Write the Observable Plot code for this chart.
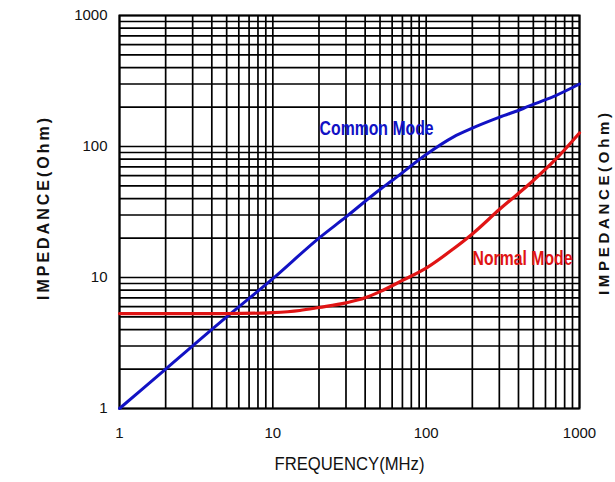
<!DOCTYPE html>
<html>
<head>
<meta charset="utf-8">
<script src="https://cdn.jsdelivr.net/npm/d3@7"></script>
<script src="https://cdn.jsdelivr.net/npm/@observablehq/plot@0.6"></script>
<style>
  html, body { margin: 0; padding: 0; background: #fff; }
</style>
</head>
<body>
<div id="chart"></div>
<script>
// Frequency (MHz) sample points and impedance (Ohm)
const commonFreq = [1, 2, 5, 10, 20, 30, 50, 60, 100, 150, 200, 300, 430, 500, 700, 1000];
const commonImp  = [1, 2, 5, 9.8, 20, 29, 47, 55, 87, 118, 138, 167, 195, 210, 245, 300];

const normalFreq = [1, 5, 10, 15, 20, 30, 40, 50, 70, 100, 150, 200, 300, 500, 700, 1000];
const normalImp  = [5.3, 5.3, 5.4, 5.6, 5.9, 6.4, 7.0, 7.8, 9.5, 11.8, 16.5, 21.5, 33, 55, 80, 127];

// tick labels (decades) and log grid values
const decadeTicks = [1, 10, 100, 1000];
const gridValues = [1,2,3,4,5,6,7,8,9,10,20,30,40,50,60,70,80,90,100,200,300,400,500,600,700,800,900,1000];

// series annotations
const seriesNames = ["Common Mode", "Normal Mode"];
const seriesColors = ["#1212c4", "#e01414"];
const labelFreq = [47.5, 425];
const labelImp = [137, 14];

const common = commonFreq.map((f, i) => ({f, z: commonImp[i]}));
const normal = normalFreq.map((f, i) => ({f, z: normalImp[i]}));
const labels = seriesNames.map((name, i) => ({name, f: labelFreq[i], z: labelImp[i], color: seriesColors[i]}));

const sans = "'Liberation Sans', Arial, sans-serif";

const chart = Plot.plot({
  width: 615,
  height: 482,
  marginLeft: 119,
  marginRight: 36,
  marginTop: 15,
  marginBottom: 74,
  style: {fontFamily: sans, background: "#fff", color: "#111"},
  x: {type: "log", domain: [1, 1000], label: null},
  y: {type: "log", domain: [1, 1000], label: null},
  marks: [
    Plot.ruleX(gridValues, {stroke: "#000", strokeWidth: 1.7}),
    Plot.ruleY(gridValues, {stroke: "#000", strokeWidth: 1.7}),
    Plot.frame({stroke: "#000", strokeWidth: 2}),
    Plot.line(common, {x: "f", y: "z", stroke: seriesColors[0], strokeWidth: 3, curve: "monotone-x"}),
    Plot.line(normal, {x: "f", y: "z", stroke: seriesColors[1], strokeWidth: 3.2, curve: "monotone-x"}),
    Plot.text(labels, {x: "f", y: "z", text: "name", fill: "color", fontSize: 20, fontWeight: "bold"}),
    Plot.axisX({ticks: decadeTicks, tickFormat: d => String(d), tickSize: 0, tickPadding: 19, fontSize: 15, label: null}),
    Plot.axisY({ticks: decadeTicks, tickFormat: d => String(d), tickSize: 0, tickPadding: 12, fontSize: 15, label: null}),
    Plot.text(["FREQUENCY(MHz)"], {frameAnchor: "bottom", dy: 61, fontSize: 19, fill: "#111", textAnchor: "middle"}),
    Plot.text(["IMPEDANCE(Ohm)"], {frameAnchor: "left", dx: -76, dy: -3, rotate: -90, textAnchor: "middle", fontSize: 16, fontWeight: "bold", fill: "#111"}),
    Plot.text(["IMPEDANCE(Ohm)"], {frameAnchor: "right", dx: 25, dy: -8, rotate: -90, textAnchor: "middle", fontSize: 15, fontWeight: "bold", fill: "#111"})
  ]
});

// condensed lettering like the reference
const fitWidths = {"Common Mode": [114, "spacingAndGlyphs"], "Normal Mode": [100, "spacingAndGlyphs"],
                   "FREQUENCY(MHz)": [150, "spacingAndGlyphs"], "IMPEDANCE(Ohm)": [182, "spacing"]};
chart.querySelectorAll("text").forEach(t => {
  const w = fitWidths[t.textContent];
  if (w) { t.setAttribute("textLength", w[0]); t.setAttribute("lengthAdjust", w[1]); }
});

document.getElementById("chart").appendChild(chart);
</script>
</body>
</html>
